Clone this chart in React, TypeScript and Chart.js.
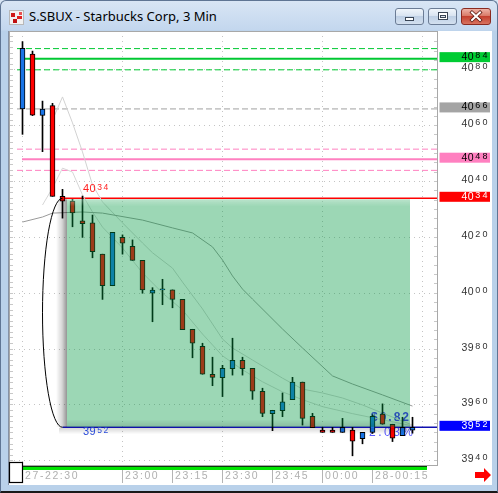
import React, { useEffect, useRef } from "react";
import { Chart, registerables } from "chart.js";

Chart.register(...registerables);

// S.SBUX 3-minute bars, prices in cents
const opens = [4066.0, 4085.6, 4063.7, 4067.2, 4034.7, 4033.0, 4025.9, 4025.2, 4014.0, 4002.7, 4020.0, 4016.8, 4011.8, 4000.0, 4001.2, 4001.2, 3997.8, 3987.1, 3981.0, 3971.0, 3969.8, 3973.0, 3976.0, 3973.1, 3964.9, 3956.9, 3958.0, 3961.9, 3968.2, 3955.9, 3951.0, 3951.0, 3950.2, 3951.0, 3947.9, 3950.2, 3956.7, 3953.1, 3949.0, 3951.0];
const highs = [4090.1, 4086.7, 4068.8, 4068.0, 4037.2, 4033.6, 4034.8, 4028.0, 4014.0, 4021.8, 4020.9, 4019.1, 4011.8, 4002.0, 4005.0, 4001.2, 3997.8, 3987.1, 3982.1, 3977.1, 3974.2, 3983.9, 3977.1, 3973.1, 3966.0, 3958.1, 3964.3, 3969.9, 3968.2, 3957.0, 3952.0, 3952.0, 3955.2, 3952.0, 3950.2, 3956.5, 3960.4, 3953.1, 3955.6, 3955.6];
const lows = [4056.9, 4063.6, 4050.7, 4034.7, 4026.9, 4023.8, 4020.0, 4012.7, 3997.8, 4002.7, 4014.0, 4011.8, 4000.0, 3989.8, 3995.9, 3994.8, 3987.0, 3976.9, 3971.0, 3966.9, 3963.0, 3970.7, 3970.7, 3962.0, 3955.8, 3950.8, 3955.8, 3961.9, 3952.8, 3951.9, 3950.2, 3950.2, 3950.2, 3941.8, 3946.1, 3949.8, 3953.1, 3946.9, 3949.0, 3949.9];
const closes = [4087.7, 4063.8, 4065.9, 4034.7, 4033.0, 4028.8, 4024.9, 4014.9, 4002.7, 4021.8, 4017.9, 4011.8, 4001.2, 4001.1, 4001.2, 3997.8, 3987.0, 3982.1, 3971.0, 3969.9, 3973.1, 3976.0, 3973.0, 3964.9, 3957.0, 3958.1, 3961.1, 3968.2, 3955.2, 3951.9, 3950.2, 3950.2, 3952.0, 3947.0, 3950.2, 3955.9, 3953.1, 3948.1, 3952.0, 3952.0];

// average lines (bar position, price)
const slowLineX = [0, 2, 3, 6, 8, 12, 15, 17, 19, 20, 21, 22, 23, 26, 28, 31, 33, 36, 39];
const slowLineY = [4025.5, 4027.3, 4028.7, 4029.1, 4028.7, 4026.2, 4023.4, 4021.6, 4016.6, 4011.9, 4006.2, 4001.5, 3997.9, 3987.2, 3980.4, 3970.4, 3967.5, 3963.6, 3959.6];
const fastLineX = [3, 4, 5, 6, 7, 8, 10, 12, 13, 15, 16, 18, 20, 21, 23, 26, 28, 30, 32, 34, 36, 39];
const fastLineY = [4062.0, 4070.3, 4061.0, 4050.6, 4038.8, 4032.7, 4025.2, 4018.0, 4014.5, 4009.0, 4004.0, 3994.4, 3983.6, 3980.4, 3976.1, 3969.6, 3965.7, 3964.3, 3962.5, 3960.0, 3957.1, 3952.8];
const midLineX = [2, 3, 4, 5, 6, 7, 8, 10, 12, 14, 16, 18, 20, 22, 24, 26, 28, 30, 33, 36, 39];
const midLineY = [4031.6, 4037.7, 4044.8, 4043.4, 4035.2, 4029.1, 4023.7, 4016.2, 4007.3, 4000.1, 3994.0, 3985.4, 3977.6, 3972.6, 3968.3, 3964.7, 3961.9, 3959.4, 3956.9, 3954.7, 3952.5];

// price levels
const targetLevel = 4084;
const targetBand = [4087.6, 4080.0];
const pivotLevel = 4066;
const pinkLevel = 4048;
const pinkBand = [4051.6, 4044.0];
const entryPrice = 4034;
const lastPrice = 3952;
const entryBar = 4;
const zoneStartBar = 4.45;
const zoneEndBar = 38.75;

// axes
const priceTicks = [3940, 3960, 3980, 4000, 4020, 4040, 4060, 4080];
const gridBars = [0, 10, 20, 30, 40];
const timeTickBars = [0, 10, 15, 20, 25, 30, 35];
const timeTickLabels = ["27-22:30", "23:00", "23:15", "23:30", "23:45", "00:00", "28-00:15"];
const markerPrices = [4084, 4066, 4048, 4034, 3952];
const markerFill = ["#00cc33", "#a4a4a4", "#ff80c0", "#ff0000", "#0000ff"];
const markerInk = ["#000000", "#000000", "#000000", "#ffffff", "#ffffff"];

const X_MIN = -1.35;
const X_MAX = 41.55;
const Y_MIN = 3938.15;
const Y_MAX = 4093.9;

const UP = "#1874e6";
const DOWN = "#ff0000";
const AXIS_FONT = '"Liberation Sans", Arial, sans-serif';

function setSpacing(ctx: CanvasRenderingContext2D, v: string) {
  (ctx as any).letterSpacing = v;
}

function drawSplitPrice(
  ctx: CanvasRenderingContext2D,
  value: number,
  xLeft: number,
  yMid: number,
  mainSize: number,
  supSize: number,
  supSpacing: string,
  color: string
) {
  const s = String(value);
  const head = s.slice(0, 2);
  const tail = s.slice(2);
  ctx.fillStyle = color;
  ctx.textBaseline = "middle";
  ctx.textAlign = "left";
  ctx.font = `${mainSize}px ${AXIS_FONT}`;
  setSpacing(ctx, "0.5px");
  ctx.fillText(head, xLeft, yMid);
  const w = ctx.measureText(head).width;
  ctx.font = `${supSize}px ${AXIS_FONT}`;
  setSpacing(ctx, supSpacing);
  ctx.fillText(tail, xLeft + w + 1, yMid - 1.5);
  setSpacing(ctx, "0px");
}

const decor = {
  id: "sbuxDecor",
  beforeDatasetsDraw(chart: any) {
    const { ctx, chartArea: a, scales } = chart;
    const x = scales.x;
    const y = scales.y;
    ctx.save();
    // dotted grid
    ctx.strokeStyle = "#c4c4c4";
    ctx.lineWidth = 1;
    ctx.setLineDash([1, 4]);
    priceTicks.forEach((p) => {
      const py = Math.floor(y.getPixelForValue(p)) + 0.5;
      ctx.beginPath();
      ctx.moveTo(a.left, py);
      ctx.lineTo(a.right, py);
      ctx.stroke();
    });
    gridBars.forEach((b) => {
      const px = Math.floor(x.getPixelForValue(b)) + 0.5;
      ctx.beginPath();
      ctx.moveTo(px, a.top);
      ctx.lineTo(px, a.bottom);
      ctx.stroke();
    });
    ctx.setLineDash([]);
    // edge ticks
    ctx.strokeStyle = "#c8c8c8";
    for (let p = 3940; p <= 4092; p += 2) {
      const py = Math.floor(y.getPixelForValue(p)) + 0.5;
      ctx.beginPath();
      ctx.moveTo(a.left + 1, py);
      ctx.lineTo(a.left + 4, py);
      ctx.stroke();
    }
    for (let p = 3940; p <= 4092; p += 20 / 6) {
      const py = Math.floor(y.getPixelForValue(p)) + 0.5;
      ctx.beginPath();
      ctx.moveTo(a.right - 4, py);
      ctx.lineTo(a.right - 1, py);
      ctx.stroke();
    }
    // move size, behind the bars
    const right = x.getPixelForValue(zoneEndBar);
    const bottom = y.getPixelForValue(lastPrice);
    const move = entryPrice - lastPrice;
    ctx.textBaseline = "middle";
    ctx.textAlign = "left";
    ctx.font = `bold 12px ${AXIS_FONT}`;
    setSpacing(ctx, "2px");
    ctx.fillStyle = "#4221ff";
    ctx.fillText(`$${(move / 100).toFixed(2)}`, right - 39, bottom - 10);
    ctx.font = `12px ${AXIS_FONT}`;
    setSpacing(ctx, "2.5px");
    ctx.fillStyle = "#5a5aff";
    ctx.fillText(`${((move / entryPrice) * 100).toFixed(2)}%`, right - 41, bottom + 5);
    setSpacing(ctx, "0px");
    ctx.restore();
  },
  afterDatasetsDraw(chart: any) {
    const { ctx, scales } = chart;
    const x = scales.x;
    const y = scales.y;
    const left = x.getPixelForValue(zoneStartBar);
    const right = x.getPixelForValue(zoneEndBar);
    const top = y.getPixelForValue(entryPrice);
    const bottom = y.getPixelForValue(lastPrice);
    ctx.save();
    // shadow along the left edge
    const sg = ctx.createLinearGradient(left - 11, 0, left, 0);
    sg.addColorStop(0, "rgba(0,0,0,0)");
    sg.addColorStop(0.55, "rgba(0,0,0,0.16)");
    sg.addColorStop(1, "rgba(0,0,0,0.42)");
    ctx.fillStyle = sg;
    ctx.fillRect(left - 11, top + 1, 11, bottom - top - 1.5);
    // shadow under the zone
    const bg = ctx.createLinearGradient(0, bottom + 0.5, 0, bottom + 7);
    bg.addColorStop(0, "rgba(0,0,0,0.16)");
    bg.addColorStop(1, "rgba(0,0,0,0)");
    ctx.fillStyle = bg;
    ctx.fillRect(left - 8, bottom + 0.5, right - left + 8, 6.5);
    // zone tint
    ctx.fillStyle = "rgba(0,153,64,0.39)";
    ctx.fillRect(left, top + 1, right - left, bottom - top - 1.5);
    // soft edges inside the zone
    const tg = ctx.createLinearGradient(0, top + 1, 0, top + 8);
    tg.addColorStop(0, "rgba(255,255,255,0.3)");
    tg.addColorStop(1, "rgba(255,255,255,0)");
    ctx.fillStyle = tg;
    ctx.fillRect(left, top + 1, right - left, 7);
    const ig = ctx.createLinearGradient(0, bottom - 8, 0, bottom - 0.5);
    ig.addColorStop(0, "rgba(0,0,0,0)");
    ig.addColorStop(1, "rgba(0,0,0,0.12)");
    ctx.fillStyle = ig;
    ctx.fillRect(left, bottom - 8, right - left, 7.5);
    // bracket from entry down to last price
    const cx = x.getPixelForValue(entryBar);
    ctx.strokeStyle = "#000000";
    ctx.lineWidth = 1;
    ctx.beginPath();
    ctx.ellipse(cx, (top + bottom) / 2, 20, (bottom - top) / 2, 0, Math.PI / 2, (3 * Math.PI) / 2);
    ctx.stroke();
    // in-plot price tags
    drawSplitPrice(ctx, entryPrice, cx + 20.5, top - 9, 11, 8.5, "1.5px", "#ff2020");
    drawSplitPrice(ctx, lastPrice, cx + 20.5, bottom + 5, 11, 8.5, "1.5px", "#2a4bd8");
    ctx.restore();
  },
  afterDraw(chart: any) {
    const { ctx, chartArea: a, scales } = chart;
    const x = scales.x;
    const y = scales.y;
    ctx.save();
    // plot frame
    ctx.strokeStyle = "#a8a8a8";
    ctx.lineWidth = 1;
    ctx.strokeRect(a.left + 0.5, a.top + 0.5, a.right - a.left - 1, a.bottom - a.top - 1);
    // price axis
    priceTicks.forEach((p) => {
      const py = y.getPixelForValue(p) - 1.5;
      drawSplitPrice(ctx, p, a.right + 23.5, py, 10.5, 9, "2.2px", "#333333");
    });
    markerPrices.forEach((p, i) => {
      const py = y.getPixelForValue(p);
      ctx.fillStyle = markerFill[i];
      ctx.fillRect(a.right + 1.5, py - 6.5, 50.5, 10);
      drawSplitPrice(ctx, p, a.right + 23.5, py - 1.5, 10.5, 9, "2.2px", markerInk[i]);
    });
    // time axis
    ctx.strokeStyle = "#b4b4b4";
    timeTickBars.forEach((b, i) => {
      const px = Math.floor(x.getPixelForValue(b)) + 0.5;
      ctx.beginPath();
      ctx.moveTo(px, a.bottom + 3);
      ctx.lineTo(px, a.bottom + 17);
      ctx.stroke();
      ctx.fillStyle = "#b0b0b0";
      ctx.font = `10.5px ${AXIS_FONT}`;
      setSpacing(ctx, "1.6px");
      ctx.textAlign = "left";
      ctx.textBaseline = "middle";
      ctx.fillText(timeTickLabels[i], px + 2.5, a.bottom + 10);
      setSpacing(ctx, "0px");
    });
    // scroll bar
    ctx.fillStyle = "#00e400";
    ctx.fillRect(a.left + 14, a.bottom + 1, 404, 3);
    ctx.fillStyle = "#0a3a0a";
    ctx.fillRect(a.left + 14, a.bottom, 404, 1);
    // corner box
    ctx.fillStyle = "#ffffff";
    ctx.fillRect(a.left, a.bottom - 4, 14, 21);
    ctx.strokeStyle = "#000000";
    ctx.lineWidth = 1.2;
    ctx.strokeRect(a.left + 0.5, a.bottom - 3.5, 13, 20);
    // scroll arrow
    ctx.fillStyle = "#ff0000";
    ctx.beginPath();
    const ax = a.right + 37;
    const ay = a.bottom + 9;
    ctx.moveTo(ax, ay - 3);
    ctx.lineTo(ax + 9, ay - 3);
    ctx.lineTo(ax + 9, ay - 7);
    ctx.lineTo(ax + 16, ay);
    ctx.lineTo(ax + 9, ay + 7);
    ctx.lineTo(ax + 9, ay + 3);
    ctx.lineTo(ax, ay + 3);
    ctx.closePath();
    ctx.fill();
    ctx.restore();
  },
};

function hLine(value: number, fromBar: number, color: string, width: number, dash: number[]) {
  return {
    type: "line" as const,
    data: [
      { x: fromBar, y: value },
      { x: X_MAX, y: value },
    ],
    borderColor: color,
    borderWidth: width,
    borderDash: dash,
    pointRadius: 0,
    order: 10,
  };
}

function guideLine(xs: number[], ys: number[], color: string) {
  return {
    type: "line" as const,
    data: xs.map((b, i) => ({ x: b, y: ys[i] })),
    borderColor: color,
    borderWidth: 1,
    pointRadius: 0,
    tension: 0,
    order: 5,
  };
}

const btnBase: React.CSSProperties = {
  position: "absolute",
  top: 8,
  height: 17,
  borderRadius: 3,
  boxSizing: "border-box",
  border: "1px solid #6b7c95",
  background: "linear-gradient(#f0f5fb 0%, #d9e4f1 45%, #bfd0e5 50%, #d3e0ef 100%)",
};

export default function App() {
  const ref = useRef<HTMLCanvasElement>(null);

  useEffect(() => {
    const canvas = ref.current;
    if (!canvas) return;
    const bodies = opens.map((o, i) => ({ x: i, y: [o, closes[i]] }));
    const wicks = lows.map((l, i) => ({ x: i, y: [l, highs[i]] }));
    const bodyColors = opens.map((o, i) => (closes[i] >= o ? UP : DOWN));
    const chart = new Chart(canvas, {
      type: "bar",
      data: {
        datasets: [
          {
            type: "bar",
            data: bodies as any,
            backgroundColor: bodyColors,
            borderColor: "#000000",
            borderWidth: 1,
            borderSkipped: false,
            barThickness: 5,
            grouped: false,
            minBarLength: 1,
            order: 1,
          },
          {
            type: "bar",
            data: wicks as any,
            backgroundColor: "#000000",
            borderWidth: 0,
            barThickness: 1,
            grouped: false,
            order: 2,
          },
          guideLine(slowLineX, slowLineY, "#9a9a9a") as any,
          guideLine(fastLineX, fastLineY, "#d2d2d2") as any,
          guideLine(midLineX, midLineY, "#d6d6d6") as any,
          hLine(targetBand[0], -0.55, "#00c832", 1, [6, 3]) as any,
          hLine(targetLevel, 0.1, "#00c832", 2, []) as any,
          hLine(targetBand[1], -0.55, "#00c832", 1, [6, 3]) as any,
          hLine(pivotLevel, -0.55, "#a0a0a0", 1, [6, 3]) as any,
          hLine(pinkBand[0], -0.55, "#ff80c0", 1, [6, 3]) as any,
          hLine(pinkLevel, -0.05, "#ff80c0", 2, []) as any,
          hLine(pinkBand[1], -0.55, "#ff80c0", 1, [6, 3]) as any,
          hLine(entryPrice, entryBar, "#ff0000", 1.5, []) as any,
          hLine(lastPrice, entryBar, "#1010b0", 1.5, []) as any,
        ],
      },
      options: {
        animation: false,
        responsive: false,
        events: [],
        layout: { padding: { left: 9, right: 60, top: 31, bottom: 27 } },
        plugins: { legend: { display: false }, tooltip: { enabled: false } },
        scales: {
          x: { type: "linear", display: false, min: X_MIN, max: X_MAX, offset: false },
          y: { type: "linear", display: false, min: Y_MIN, max: Y_MAX },
        },
      },
      plugins: [decor],
    });
    return () => chart.destroy();
  }, []);

  return (
    <div
      style={{
        position: "fixed",
        left: 0,
        top: 0,
        width: 498,
        height: 493,
        overflow: "hidden",
        background: "linear-gradient(#d9e6f5 0px, #c3d7ee 30px, #b9d1ea 31px, #b9d1ea 100%)",
        fontFamily: '"Noto Sans", "DejaVu Sans", sans-serif',
      }}
    >
      <div
        style={{
          position: "absolute",
          inset: 0,
          border: "1px solid #5f7594",
          borderBottom: "2px solid #1a1a1a",
          borderRadius: "6px 6px 0 0",
          boxSizing: "border-box",
        }}
      />
      <div
        style={{
          position: "absolute",
          left: 9,
          top: 10,
          width: 15,
          height: 15,
          background: "#f2f2f2",
          border: "1px solid #b8b8b8",
          boxSizing: "border-box",
        }}
      >
        <div style={{ position: "absolute", left: 1, top: 2, width: 4, height: 4, background: "#d01818" }} />
        <div style={{ position: "absolute", left: 7, top: 5, width: 5, height: 3, background: "#e02020" }} />
        <div style={{ position: "absolute", left: 3, top: 8, width: 4, height: 4, background: "#c01010" }} />
        <div style={{ position: "absolute", left: 9, top: 1, width: 3, height: 3, background: "#e85050" }} />
      </div>
      <div
        style={{
          position: "absolute",
          left: 29,
          top: 7,
          fontSize: 13,
          lineHeight: "18px",
          color: "#000000",
          whiteSpace: "nowrap",
        }}
      >
        S.SBUX - Starbucks Corp, 3 Min
      </div>
      <div style={{ ...btnBase, left: 395, width: 29 }}>
        <div
          style={{
            position: "absolute",
            left: 9,
            top: 8,
            width: 9,
            height: 4,
            background: "#ffffff",
            border: "1px solid #3a4656",
            boxSizing: "border-box",
          }}
        />
      </div>
      <div style={{ ...btnBase, left: 428, width: 29 }}>
        <div
          style={{
            position: "absolute",
            left: 9,
            top: 3,
            width: 10,
            height: 8,
            border: "1px solid #3a4656",
            boxSizing: "border-box",
            background: "#ffffff",
          }}
        >
          <div
            style={{
              position: "absolute",
              left: 1,
              top: 2,
              width: 6,
              height: 3,
              border: "1px solid #3a4656",
              boxSizing: "border-box",
              background: "#dfe7f1",
            }}
          />
        </div>
      </div>
      <div
        style={{
          ...btnBase,
          left: 461,
          width: 30,
          border: "1px solid #8b2a20",
          background: "linear-gradient(#eeb2a6 0%, #d97a68 45%, #c4402f 50%, #d8735f 100%)",
        }}
      >
        <svg width="28" height="15" style={{ position: "absolute", left: 0, top: 0 }}>
          <path d="M10 3.5 L18 11 M18 3.5 L10 11" stroke="#5a1a12" strokeWidth="3.6" strokeLinecap="square" />
          <path d="M10 3.5 L18 11 M18 3.5 L10 11" stroke="#ffffff" strokeWidth="2" strokeLinecap="square" />
        </svg>
      </div>
      <div
        style={{
          position: "absolute",
          left: 8,
          top: 31,
          width: 484,
          height: 454,
          background: "#ffffff",
          borderLeft: "1px solid #8592a6",
          boxSizing: "border-box",
        }}
      />
      <canvas
        ref={ref}
        width={498}
        height={493}
        style={{ position: "absolute", left: 0, top: 0, width: 498, height: 493 }}
      />
    </div>
  );
}
